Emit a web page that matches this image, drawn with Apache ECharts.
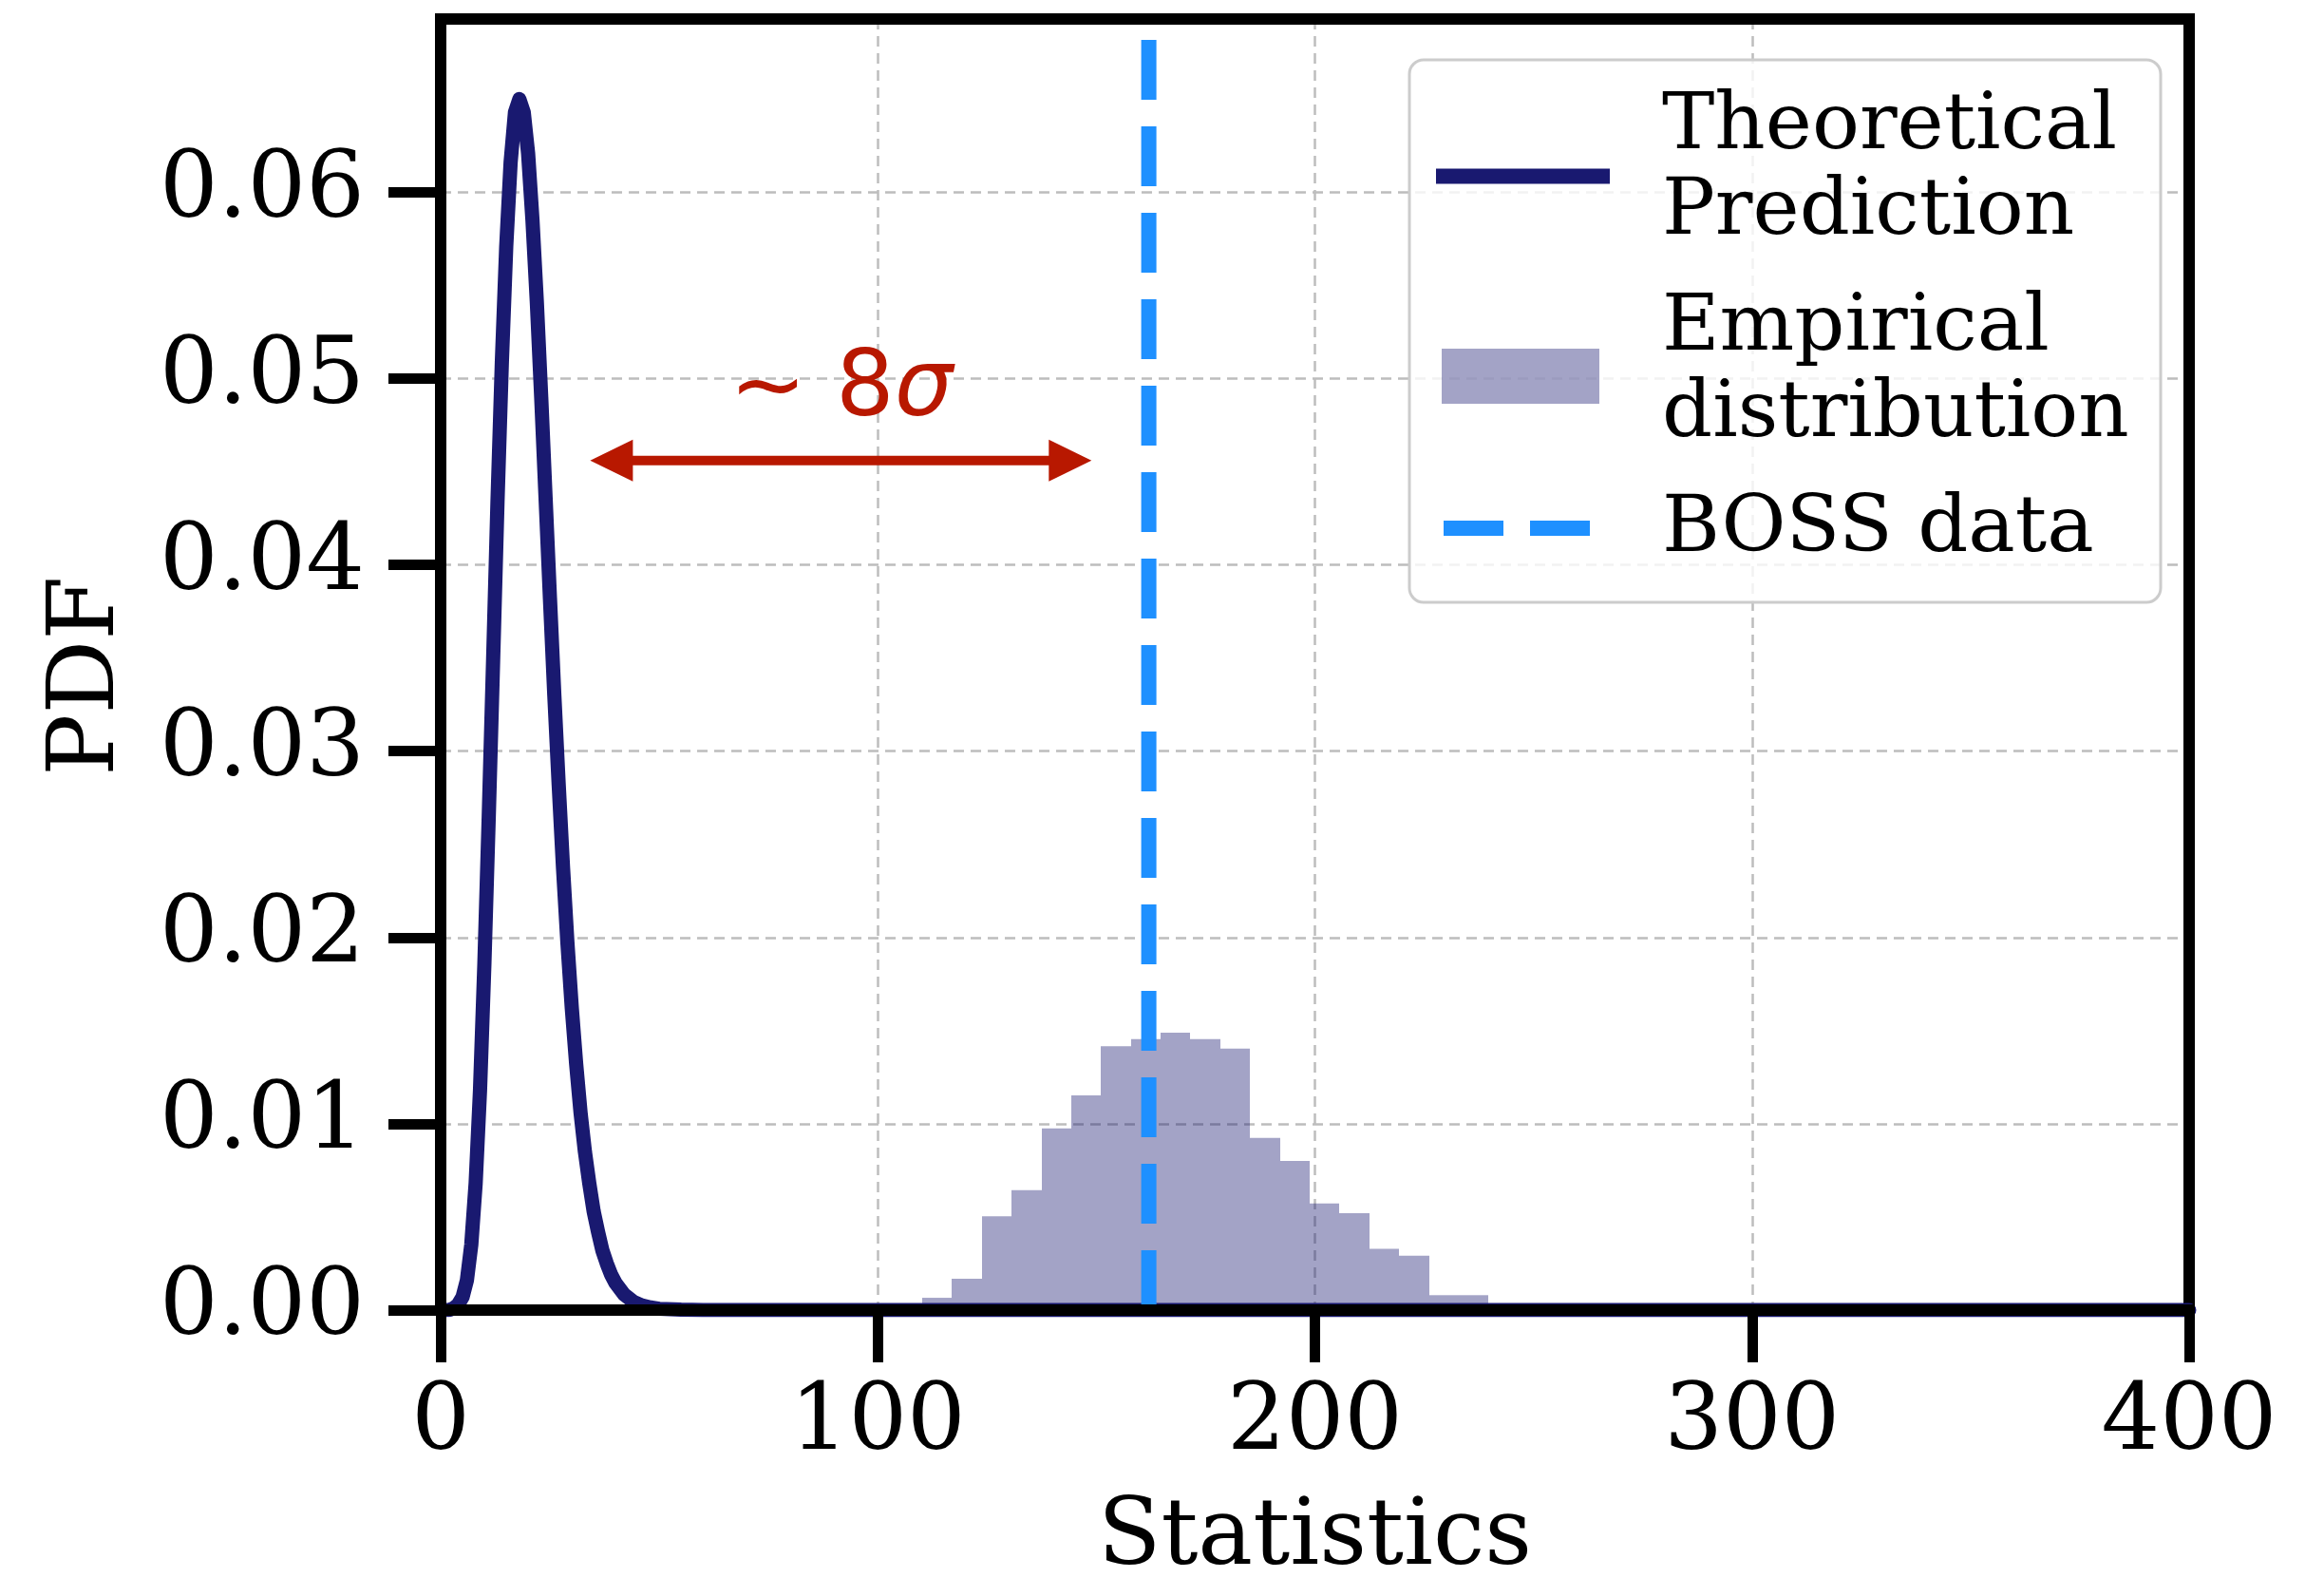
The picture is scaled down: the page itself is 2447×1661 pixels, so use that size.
<!DOCTYPE html>
<html>
<head>
<meta charset="utf-8">
<script src="https://cdn.jsdelivr.net/npm/echarts@6.0.0/dist/echarts.min.js"></script>
<style>
html, body { margin: 0; padding: 0; background: #ffffff; }
#chart { width: 2447px; height: 1661px; }
</style>
</head>
<body>
<div id="chart"></div>
<script>
// ---------------- data ----------------
const xTicks = [0, 100, 200, 300, 400];
const xTickLabels = ['0', '100', '200', '300', '400'];
const yTicks = [0, 0.01, 0.02, 0.03, 0.04, 0.05, 0.06];
const yTickLabels = ['0.00', '0.01', '0.02', '0.03', '0.04', '0.05', '0.06'];

// Theoretical prediction curve (x, PDF)
const theoryX = [0, 1, 2, 3, 4, 5, 6, 7, 8, 9, 10, 11, 12, 13, 14, 15, 16, 17, 18, 19,
  20, 21, 22, 23, 24, 25, 26, 27, 28, 29, 30, 31, 32, 33, 34, 35, 36, 37, 38, 39,
  40, 42, 44, 46, 48, 50, 55, 60, 80, 400];
const theoryY = [0, 0, 0.00001, 0.0001, 0.0003, 0.0007, 0.0016, 0.0035, 0.0068, 0.0118,
  0.0186, 0.0265, 0.0349, 0.0434, 0.0509, 0.0571, 0.0616, 0.0643, 0.0650, 0.0643,
  0.0621, 0.0585, 0.0541, 0.0490, 0.0436, 0.0382, 0.0330, 0.0282, 0.0237, 0.0197,
  0.0162, 0.0132, 0.0106, 0.0085, 0.0068, 0.0053, 0.0042, 0.0032, 0.0025, 0.0019,
  0.00145, 0.00083, 0.00046, 0.00025, 0.00014, 0.00007, 0.00002, 0.000005, 0, 0];

// Empirical distribution histogram: bin edges and densities
const histEdges = [110.2, 117.0, 123.8, 130.6, 137.5, 144.3, 151.1, 157.9, 164.7, 171.5,
  178.4, 185.2, 192.0, 198.8, 205.6, 212.4, 219.3, 226.1, 232.9, 239.7];
const histHeights = [0.00066, 0.00168, 0.00503, 0.00644, 0.00975, 0.01153, 0.01416, 0.01454,
  0.01489, 0.01454, 0.01403, 0.00924, 0.00800, 0.00572, 0.00520, 0.00329, 0.00292, 0.00080, 0.00080];

// BOSS data value
const bossValue = 162;

// "~ 8 sigma" annotation (data coordinates)
const arrowSpan = [34.2, 148.9];
const arrowLevel = 0.0456;
const annotationMain = '~ 8';
const annotationSigma = 'σ';
const annotationAt = [91.6, 0.0493];

const legendLabels = [['Theoretical', 'Prediction'], ['Empirical', 'distribution'], ['BOSS data']];
const xName = 'Statistics';
const yName = 'PDF';
const X_MIN = 0, X_MAX = 400, Y_MIN = 0, Y_MAX = 0.0693;

// ---------------- styles ----------------
const SERIF = 'DejaVu Serif';
const SANS = 'DejaVu Sans';
const NAVY = '#191970';
const HIST_FILL = 'rgba(25,25,112,0.4)';
const BOSS_BLUE = '#1e90ff';
const ANNOT_RED = '#b81800';
const GRID_COLOR = '#bdbdbd';

const theoryData = theoryX.map((x, i) => [x, theoryY[i]]);
const histData = histHeights.map((h, i) => [histEdges[i], histEdges[i + 1], h]);
const bossData = [[bossValue, Y_MIN], [bossValue, Y_MAX]];

const chart = echarts.init(document.getElementById('chart'), null, { renderer: 'canvas' });

const spineStyle = { color: '#000', width: 12, cap: 'square' };
const gridLineStyle = { color: GRID_COLOR, width: 2.5, type: [11, 7] };

const option = {
  animation: false,
  backgroundColor: '#ffffff',
  grid: { left: 464, right: 142, top: 20, bottom: 282, containLabel: false, outerBoundsMode: 'none' },
  xAxis: [
    {
      type: 'value', min: X_MIN, max: X_MAX, interval: 100, position: 'bottom', z: 5,
      axisLine: { show: true, onZero: false, lineStyle: spineStyle },
      axisTick: { show: true, inside: false, length: 55, lineStyle: { color: '#000', width: 11 } },
      axisLabel: {
        show: true, margin: 72, color: '#000', fontFamily: SERIF, fontSize: 97,
        formatter: (v) => { const i = xTicks.indexOf(v); return i >= 0 ? xTickLabels[i] : ''; }
      },
      splitLine: { show: false },
      name: xName, nameLocation: 'middle', nameGap: 193,
      nameTextStyle: { color: '#000', fontFamily: SERIF, fontSize: 97 }
    },
    {
      type: 'value', min: X_MIN, max: X_MAX, interval: 100, position: 'top', z: 0,
      axisLine: { show: true, onZero: false, lineStyle: spineStyle },
      axisTick: { show: false }, axisLabel: { show: false },
      splitLine: { show: true, showMinLine: false, showMaxLine: false, lineStyle: gridLineStyle }
    }
  ],
  yAxis: [
    {
      type: 'value', min: Y_MIN, max: Y_MAX, interval: 0.01, position: 'left', z: 5,
      axisLine: { show: true, onZero: false, lineStyle: spineStyle },
      axisTick: { show: true, inside: false, length: 55, customValues: yTicks, lineStyle: { color: '#000', width: 11 } },
      axisLabel: {
        show: true, margin: 80, color: '#000', fontFamily: SERIF, fontSize: 97,
        customValues: yTicks,
        formatter: (v) => { const i = Math.round(v / 0.01); return (i >= 0 && i < yTickLabels.length && Math.abs(v - yTicks[i]) < 1e-6) ? yTickLabels[i] : ''; }
      },
      splitLine: { show: false },
      name: yName, nameLocation: 'middle', nameGap: 322,
      nameTextStyle: { color: '#000', fontFamily: SERIF, fontSize: 97, padding: [0, 24, 0, 0] }
    },
    {
      type: 'value', min: Y_MIN, max: Y_MAX, interval: 0.01, position: 'right', z: 0,
      axisLine: { show: true, onZero: false, lineStyle: spineStyle },
      axisTick: { show: false }, axisLabel: { show: false },
      splitLine: { show: true, showMinLine: false, showMaxLine: false, lineStyle: gridLineStyle }
    }
  ],
  series: [
    {
      name: 'Empirical distribution', type: 'custom', xAxisIndex: 0, yAxisIndex: 0, z: 2,
      data: histData,
      encode: { x: [0, 1], y: 2 },
      renderItem: (params, api) => {
        const p0 = api.coord([api.value(0), api.value(2)]);
        const p1 = api.coord([api.value(1), 0]);
        const xa = Math.round(p0[0]), xb = Math.round(p1[0]);
        return {
          type: 'rect',
          shape: { x: xa, y: p0[1], width: xb - xa, height: p1[1] - p0[1] },
          style: { fill: HIST_FILL }
        };
      }
    },
    {
      name: 'Theoretical Prediction', type: 'line', xAxisIndex: 0, yAxisIndex: 0, z: 3,
      data: theoryData, symbol: 'none', showSymbol: false, smooth: false, clip: true,
      lineStyle: { color: NAVY, width: 15, join: 'round', cap: 'round' },
      itemStyle: { color: NAVY }
    },
    {
      name: 'BOSS data', type: 'line', xAxisIndex: 0, yAxisIndex: 0, z: 4,
      data: bossData, symbol: 'none', showSymbol: false,
      lineStyle: { color: BOSS_BLUE, width: 16, type: [63, 28], cap: 'butt' },
      itemStyle: { color: BOSS_BLUE }
    },
    {
      name: 'annotation', type: 'custom', xAxisIndex: 0, yAxisIndex: 0, z: 4,
      data: [[arrowSpan[0], arrowSpan[1], arrowLevel, annotationAt[0], annotationAt[1]]],
      encode: { x: [0, 1], y: 2 },
      renderItem: (params, api) => {
        const a = api.coord([api.value(0), api.value(2)]);
        const b = api.coord([api.value(1), api.value(2)]);
        const t = api.coord([api.value(3), api.value(4)]);
        const headL = 45, headW = 22;
        return {
          type: 'group',
          children: [
            { type: 'line', shape: { x1: a[0] + headL - 2, y1: a[1], x2: b[0] - headL + 2, y2: b[1] },
              style: { stroke: ANNOT_RED, lineWidth: 10 } },
            { type: 'polygon', shape: { points: [[a[0], a[1]], [a[0] + headL, a[1] - headW], [a[0] + headL, a[1] + headW]] },
              style: { fill: ANNOT_RED } },
            { type: 'polygon', shape: { points: [[b[0], b[1]], [b[0] - headL, b[1] - headW], [b[0] - headL, b[1] + headW]] },
              style: { fill: ANNOT_RED } },
            { type: 'text', x: t[0], y: t[1],
              style: {
                text: '{m|' + annotationMain + '}{s|' + annotationSigma + '}',
                align: 'center', verticalAlign: 'middle',
                rich: {
                  m: { fontFamily: SANS, fontSize: 97, fill: ANNOT_RED, color: ANNOT_RED },
                  s: { fontFamily: SANS, fontSize: 97, fontStyle: 'italic', fill: ANNOT_RED, color: ANNOT_RED }
                }
              } }
          ]
        };
      }
    }
  ],
  graphic: [
    { type: 'rect', z: 100, shape: { x: 1484, y: 63, width: 791, height: 571, r: 15 },
      style: { fill: 'rgba(255,255,255,0.8)', stroke: '#cccccc', lineWidth: 3 } },
    { type: 'line', z: 101, shape: { x1: 1512, y1: 185.5, x2: 1695, y2: 185.5 },
      style: { stroke: NAVY, lineWidth: 16 } },
    { type: 'rect', z: 101, shape: { x: 1518, y: 367, width: 166, height: 58 },
      style: { fill: HIST_FILL } },
    { type: 'line', z: 101, shape: { x1: 1520, y1: 556, x2: 1677, y2: 556 },
      style: { stroke: BOSS_BLUE, lineWidth: 16, lineDash: [63, 28] } },
    { type: 'text', z: 101, x: 1750, y: 134, style: { text: legendLabels[0][0], font: '83px "DejaVu Serif"', fill: '#000', verticalAlign: 'middle' } },
    { type: 'text', z: 101, x: 1750, y: 224, style: { text: legendLabels[0][1], font: '83px "DejaVu Serif"', fill: '#000', verticalAlign: 'middle' } },
    { type: 'text', z: 101, x: 1750, y: 346, style: { text: legendLabels[1][0], font: '83px "DejaVu Serif"', fill: '#000', verticalAlign: 'middle' } },
    { type: 'text', z: 101, x: 1750, y: 437, style: { text: legendLabels[1][1], font: '83px "DejaVu Serif"', fill: '#000', verticalAlign: 'middle' } },
    { type: 'text', z: 101, x: 1750, y: 558, style: { text: legendLabels[2][0], font: '83px "DejaVu Serif"', fill: '#000', verticalAlign: 'middle' } }
  ]
};

chart.setOption(option);
</script>
</body>
</html>
